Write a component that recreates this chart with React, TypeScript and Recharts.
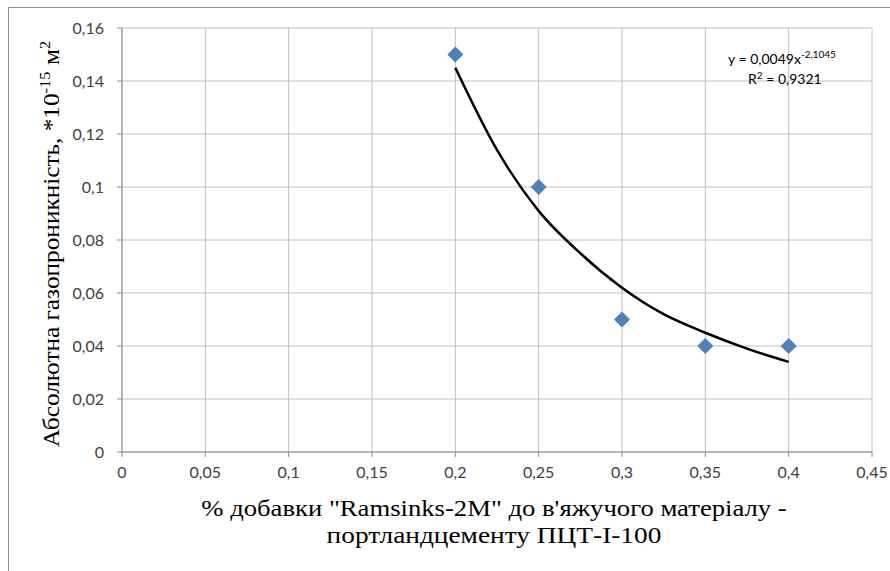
import React from 'react';
import {
    ComposedChart,
    Scatter,
    Line,
    XAxis,
    YAxis,
    CartesianGrid
} from 'recharts';

// measured values (diamonds)
const additivePct = [0.2, 0.25, 0.3, 0.35, 0.4];
const permeability = [0.15, 0.1, 0.05, 0.04, 0.04];

// power trendline
const trendX = [0.2, 0.225, 0.25, 0.275, 0.3, 0.325, 0.35, 0.375, 0.4];
const trendY = [0.145, 0.114, 0.091, 0.075, 0.062, 0.052, 0.045, 0.039, 0.034];

const xTicks = [0, 0.05, 0.1, 0.15, 0.2, 0.25, 0.3, 0.35, 0.4, 0.45];
const yTicks = [0, 0.02, 0.04, 0.06, 0.08, 0.1, 0.12, 0.14, 0.16];

const yTitle = 'Абсолютна газопроникність, *10';
const xTitle1 = '% добавки "Ramsinks-2M" до в\'яжучого матеріалу -';
const xTitle2 = 'портландцементу ПЦТ-І-100';
const equation = 'y = 0,0049x';
const exponent = '-2,1045';
const rSquared = ' = 0,9321';

const points = additivePct.map((x, i) => ({ x, y: permeability[i] }));
const trend = trendX.map((x, i) => ({ x, y: trendY[i] }));

const fmt = (v: number) => String(v).replace('.', ',');

const Diamond = (props: any) => {
    const { cx, cy } = props;
    const r = 8;
    return (
        <polygon
            points={`${cx},${cy - r} ${cx + r},${cy} ${cx},${cy + r} ${cx - r},${cy}`}
            fill="#4F81BD"
        />
    );
};

const tickStyle = { fill: '#404040', fontSize: 16, fontFamily: 'Lato, sans-serif' };
const serifStyle = { fontFamily: '"Liberation Serif", "Times New Roman", serif' };

export default function App() {
    return (
        <div style={{ position: 'absolute', left: 0, top: 0, width: 890, height: 571, background: '#fff' }}>
            <ComposedChart
                width={890}
                height={571}
                data={trend}
                margin={{ top: 28, right: 18, left: 62, bottom: 89 }}
            >
                <CartesianGrid stroke="#c0c0c0" strokeWidth={1} />
                <XAxis
                    dataKey="x"
                    type="number"
                    domain={[0, 0.45]}
                    ticks={xTicks}
                    tickFormatter={fmt}
                    stroke="#8c8c8c"
                    tickSize={5}
                    tickMargin={10}
                    height={30}
                    tick={tickStyle}
                    interval={0}
                />
                <YAxis
                    type="number"
                    domain={[0, 0.16]}
                    ticks={yTicks}
                    tickFormatter={fmt}
                    stroke="#8c8c8c"
                    tickSize={5}
                    tickMargin={13}
                    width={60}
                    tick={tickStyle}
                    interval={0}
                />
                <Scatter
                    data={points}
                    dataKey="y"
                    shape={<Diamond />}
                    isAnimationActive={false}
                />
                <Line
                    data={trend}
                    dataKey="y"
                    type="monotone"
                    stroke="#000"
                    strokeWidth={2.5}
                    dot={false}
                    activeDot={false}
                    isAnimationActive={false}
                />
            </ComposedChart>
            <svg
                width={890}
                height={571}
                style={{ position: 'absolute', left: 0, top: 0, pointerEvents: 'none' }}
            >
                {/* outer frame */}
                <path d="M8.5,571 L8.5,7.5 L890,7.5" fill="none" stroke="#8c8c8c" strokeWidth={1} />
                {/* y title, stretched along its length like the original */}
                <text
                    transform="translate(59,244) rotate(-90) scale(1.1,1)"
                    textAnchor="middle"
                    style={serifStyle}
                    fontSize={23}
                    fill="#000"
                >
                    {yTitle}
                    <tspan fontSize={15} dy={-9}>-15</tspan>
                    <tspan fontSize={23} dy={9}> м</tspan>
                    <tspan fontSize={15} dy={-9}>2</tspan>
                </text>
                {/* x title, same stretch done by scaling */}
                <g transform="translate(494,0) scale(1.16,1)">
                    <text x={0} y={516} textAnchor="middle" style={serifStyle} fontSize={23} fill="#000">
                        {xTitle1}
                    </text>
                </g>
                <g transform="translate(494,0) scale(1.19,1)">
                    <text x={0} y={543} textAnchor="middle" style={serifStyle} fontSize={23} fill="#000">
                        {xTitle2}
                    </text>
                </g>
                {/* trendline equation */}
                <text x={728} y={64} fontFamily="Lato, sans-serif" fontSize={14} fill="#000">
                    {equation}
                    <tspan fontSize={10} dy={-6}>{exponent}</tspan>
                </text>
                <text x={748} y={84} fontFamily="Lato, sans-serif" fontSize={14} fill="#000">
                    R<tspan fontSize={10} dy={-5}>2</tspan>
                    <tspan dy={5}>{rSquared}</tspan>
                </text>
            </svg>
        </div>
    );
}
